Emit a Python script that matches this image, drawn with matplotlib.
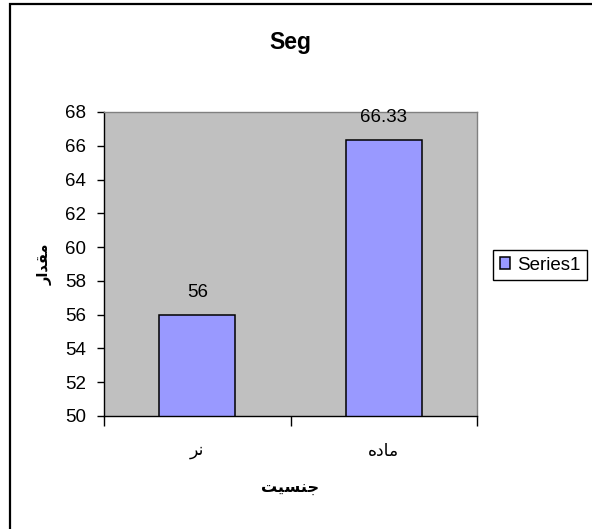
import matplotlib
matplotlib.use("Agg")
import matplotlib.pyplot as plt
from matplotlib.patches import Rectangle

plt.rcParams['font.family'] = ['Liberation Sans', 'DejaVu Sans']

# Data (Arabic-script labels written in shaped presentation forms, visual order)
categories = ["\uFEAE\uFEE7", "\uFEE9\uFEA9\uFE8E\uFEE3"]   # نر , ماده
values = [56, 66.33]
value_labels = ["56", "66.33"]
series_name = "Series1"
title = "Seg"
x_title = "\uFE96\uFEF4\uFEB4\uFEE8\uFE9F"   # جنسیت
y_title = "\uFEAD\uFE8D\uFEAA\uFED8\uFEE3"   # مقدار
y_ticks = [50, 52, 54, 56, 58, 60, 62, 64, 66, 68]

W, H = 592, 529
fig = plt.figure(figsize=(W / 100, H / 100), dpi=100)
fig.patch.set_facecolor("white")

# outer chart frame (cropped on the right and bottom)
fig.add_artist(Rectangle((10 / W, -0.2), 2, (H - 4) / H + 0.2, transform=fig.transFigure,
                         fill=False, edgecolor="black", linewidth=1.6, clip_on=False))

ax = fig.add_axes([104 / W, 1 - 416 / H, (477 - 104) / W, (416 - 112) / H])
ax.set_facecolor("#C0C0C0")

x = list(range(len(categories)))
bars = ax.bar(x, values, width=0.41, color="#9999FF", edgecolor="black",
              linewidth=1.1, label=series_name, zorder=2)

for xi, v, lab in zip(x, values, value_labels):
    ax.annotate(lab, (xi, v), xytext=(0, 13), textcoords="offset points",
                ha="center", va="baseline", fontsize=13.5)

ax.set_xlim(-0.5, len(categories) - 0.5)
ax.set_ylim(50, 68)
ax.set_yticks(y_ticks)
ax.tick_params(axis="y", length=5, width=1, pad=8, labelsize=13.5, direction="out")

ax.set_xticks([-0.5, 0.5, 1.5])
ax.set_xticklabels([])
ax.tick_params(axis="x", which="major", length=7, width=1, direction="out")
ax.set_xticks(x, minor=True)
ax.set_xticklabels(categories, minor=True, fontsize=12.5)
ax.tick_params(axis="x", which="minor", length=0, pad=20)

for s in ["top", "right"]:
    ax.spines[s].set_color("#808080")
    ax.spines[s].set_linewidth(1)
for s in ["left", "bottom"]:
    ax.spines[s].set_color("black")
    ax.spines[s].set_linewidth(1)

fig.text(0.5 * (104 + 477) / W, 1 - 42 / H, title, ha="center", va="center",
         fontsize=16.5, fontweight="bold")
fig.text(0.5 * (104 + 477) / W, 1 - 488 / H, x_title, ha="center", va="center",
         fontsize=11.5, fontweight="bold")
fig.text(45 / W, 1 - 264 / H, y_title, ha="center", va="center", rotation=90,
         fontsize=10.5, fontweight="bold")

leg = ax.legend(loc="center left", bbox_to_anchor=(493 / W, 1 - 265 / H),
                bbox_transform=fig.transFigure, borderaxespad=0, fontsize=13.5,
                fancybox=False, framealpha=1, edgecolor="black",
                handlelength=0.55, handleheight=0.55, handletextpad=0.4,
                borderpad=0.35)
leg.get_frame().set_linewidth(1)

fig.savefig("out.png", dpi=100)
